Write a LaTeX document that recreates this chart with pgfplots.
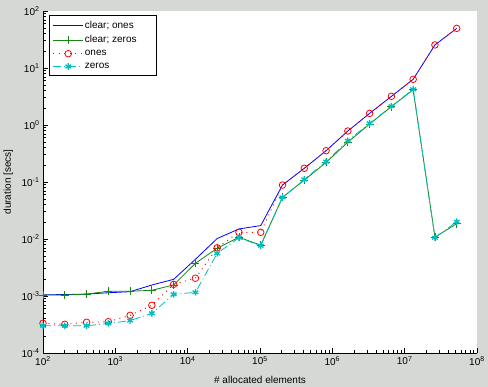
\documentclass[border=0pt]{standalone}
\usepackage{pgfplots}
\pgfplotsset{compat=1.18}
\usepackage{fontspec}
\setmainfont{Liberation Sans}
\definecolor{figgray}{RGB}{214,216,214}
\definecolor{mblue}{RGB}{0,0,255}
\definecolor{mgreen}{RGB}{20,135,20}
\definecolor{mred}{RGB}{255,0,0}
\definecolor{mcyan}{RGB}{0,191,191}

\pgfplotstableread{
x        blue      green     red       cyan
100      1.05e-3   1.04e-3   3.32e-4   3.0e-4
200      1.06e-3   1.04e-3   3.19e-4   3.0e-4
400      1.08e-3   1.08e-3   3.46e-4   3.0e-4
800      1.14e-3   1.21e-3   3.54e-4   3.3e-4
1600     1.19e-3   1.21e-3   4.58e-4   3.7e-4
3200     1.56e-3   1.26e-3   6.87e-4   4.97e-4
6400     1.96e-3   1.56e-3   1.60e-3   1.07e-3
12800    4.4e-3    3.75e-3   2.05e-3   1.16e-3
25600    1.02e-2   6.9e-3    7.0e-3    5.6e-3
51200    1.50e-2   1.07e-2   1.31e-2   1.05e-2
102400   1.72e-2   7.8e-3    1.31e-2   7.6e-3
204800   8.85e-2   5.4e-2    8.85e-2   5.38e-2
409600   0.174     0.108     0.174     0.111
819200   0.354     0.22      0.354     0.228
1638400  0.785     0.50      0.785     0.531
3276800  1.60      1.04      1.60      1.07
6553600  3.18      2.10      3.18      2.13
13107200 6.33      4.15      6.33      4.23
26214400 25.4      0.0108    25.4      0.0105
52428800 49.6      0.0185    49.6      0.0201
}\datatable

\begin{document}
\begin{tikzpicture}
\fill[figgray] (-43pt,-34pt) rectangle (445pt,353pt);
\begin{axis}[
  at={(0pt,0pt)}, anchor=south west,
  scale only axis, width=434pt, height=342pt,
  xmode=log, ymode=log,
  xmin=1e2, xmax=1e8, ymin=1e-4, ymax=1e2,
  axis x line*=bottom, axis y line*=left,
  axis line style={black, line width=0.8pt, -},
  axis background/.style={fill=white},
  tick align=inside,
  major tick length=5pt, minor tick length=3pt,
  every tick/.style={black, line width=0.6pt},
  xtick={1e2,1e3,1e4,1e5,1e6,1e7,1e8},
  xticklabels={10\textsuperscript{2},10\textsuperscript{3},10\textsuperscript{4},10\textsuperscript{5},10\textsuperscript{6},10\textsuperscript{7},10\textsuperscript{8}},
  ytick={1e-4,1e-3,1e-2,1e-1,1e0,1e1,1e2},
  yticklabels={10\textsuperscript{-4},10\textsuperscript{-3},10\textsuperscript{-2},10\textsuperscript{-1},10\textsuperscript{0},10\textsuperscript{1},10\textsuperscript{2}},
  xlabel={\# allocated elements},
  ylabel={duration [secs]},
  xlabel style={at={(axis description cs:0.5,0)}, anchor=north, yshift=-20pt},
  ylabel style={at={(axis description cs:-0.080,0.5)}, anchor=center},
  legend style={at={(axis description cs:0,1)}, anchor=north west, xshift=5.5pt, yshift=-4.5pt,
    draw=black, fill=white, line width=0.6pt, inner xsep=4pt, inner ysep=4pt, row sep=3.5pt,
    nodes={inner sep=1.2pt}},
  legend cell align=left,
  legend image code/.code={\draw[mark repeat=2,mark phase=2,#1] plot coordinates {(0pt,0pt) (15pt,0pt) (30pt,0pt)};},
]
\addplot[mblue, line width=0.8pt] table[x=x,y=blue] {\datatable};
\addlegendentry{clear; ones\hspace*{17pt}}
\addplot[mgreen, line width=0.8pt, mark=+, mark size=4pt, mark options={solid, line width=0.8pt}] table[x=x,y=green] {\datatable};
\addlegendentry{clear; zeros\hspace*{14pt}}
\addplot[mred, line width=0.9pt, dash pattern=on 1pt off 4.5pt, mark=o, mark size=3.3pt, mark options={solid, line width=0.8pt}] table[x=x,y=red] {\datatable};
\addlegendentry{ones}
\addplot[mcyan, line width=0.8pt, dash pattern=on 8pt off 3pt on 1pt off 3pt, mark=asterisk, mark size=3.3pt, mark options={solid, line width=1.3pt}] table[x=x,y=cyan] {\datatable};
\addlegendentry{zeros}
\end{axis}
\pgfresetboundingbox
\path (-43pt,-34pt) rectangle (445pt,353pt);
\end{tikzpicture}
\end{document}
